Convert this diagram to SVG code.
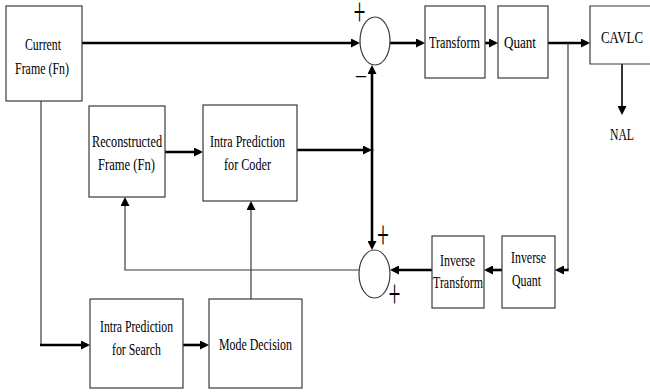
<svg xmlns="http://www.w3.org/2000/svg" width="650" height="392" viewBox="0 0 650 392">
  <style>
    .box { fill: #fff; stroke: #3a3a3a; stroke-width: 1.2; }
    .sum { fill: #fff; stroke: #3a3a3a; stroke-width: 1.2; }
    .lbl { font-family: "Liberation Serif", "Times New Roman", serif; font-size: 17px; fill: #000; }
    .sign { font-family: "Liberation Serif", "Times New Roman", serif; font-size: 40px; fill: #000; }
    .minus { font-family: "Liberation Serif", "Times New Roman", serif; font-size: 22px; fill: #000; text-anchor: middle; }
    .thick { fill: none; stroke: #000; stroke-width: 2.6; }
    .thin { fill: none; stroke: #3a3a3a; stroke-width: 1.2; }
    .arr { marker-end: url(#ah); }
  </style>
  <defs>
    <marker id="ah" viewBox="0 0 10 10" refX="6.7" refY="5" markerWidth="9" markerHeight="9" markerUnits="userSpaceOnUse" orient="auto">
      <path d="M0,0 L10,5 L0,10 z" fill="#000"/>
    </marker>
  </defs>
  <rect width="650" height="392" fill="#fff"/>

  <!-- connectors -->
  <g id="connectors">
    <path class="thick arr" d="M82,43 H357"/>
    <path class="thick arr" d="M390,43 H422"/>
    <path class="thick arr" d="M485,43 H495"/>
    <path class="thick arr" d="M548,43 H587"/>
    <path class="thin" d="M568,43 V270"/>
    <path class="thick arr" d="M568.6,270 H558"/>
    <path class="thin arr" style="stroke:#000;stroke-width:1.6" d="M622,64 V112"/>
    <path class="thick arr" d="M372,151 V68"/>
    <path class="thick arr" d="M372,149 V247"/>
    <path class="thick arr" d="M297,150 H369"/>
    <path class="thick arr" d="M165,152 H200"/>
    <path class="thin arr" d="M359,270 H125 V200"/>
    <path class="thin arr" d="M251,299 V204"/>
    <path class="thin" d="M41,101 V345"/>
    <path class="thick arr" d="M40,345 H87"/>
    <path class="thick arr" d="M183,345 H206"/>
    <path class="thick arr" d="M502,270 H487"/>
    <path class="thick arr" d="M432,270 H393"/>
  </g>

  <!-- summing junctions -->
  <g id="sum-top">
    <ellipse class="sum" cx="375" cy="41" rx="15" ry="24"/>
    <text class="sign" x="353.5" y="25" textLength="12" lengthAdjust="spacingAndGlyphs">+</text>
    <text class="minus" x="361" y="83.5">−</text>
  </g>
  <g id="sum-bottom">
    <ellipse class="sum" cx="374.5" cy="274" rx="15.5" ry="24"/>
    <text class="sign" x="377" y="247.5" textLength="12" lengthAdjust="spacingAndGlyphs">+</text>
    <text class="sign" x="388.5" y="307" textLength="12" lengthAdjust="spacingAndGlyphs">+</text>
  </g>

  <!-- blocks -->
  <g id="current-frame">
    <rect class="box" x="6" y="6" width="76" height="95"/>
    <text class="lbl" x="25" y="50" textLength="36" lengthAdjust="spacingAndGlyphs">Current</text>
    <text class="lbl" x="15" y="74" textLength="54" lengthAdjust="spacingAndGlyphs">Frame (Fn)</text>
  </g>
  <g id="transform">
    <rect class="box" x="425" y="6" width="60" height="72"/>
    <text class="lbl" x="429" y="48" textLength="51" lengthAdjust="spacingAndGlyphs">Transform</text>
  </g>
  <g id="quant">
    <rect class="box" x="498" y="6" width="50" height="72"/>
    <text class="lbl" x="504" y="48" textLength="32" lengthAdjust="spacingAndGlyphs">Quant</text>
  </g>
  <g id="cavlc">
    <path class="box" d="M651,6 H590 V64 H651"/>
    <text class="lbl" x="601" y="43" textLength="42" lengthAdjust="spacingAndGlyphs">CAVLC</text>
  </g>
  <g id="nal">
    <text class="lbl" x="610" y="140" textLength="24" lengthAdjust="spacingAndGlyphs">NAL</text>
  </g>
  <g id="reconstructed-frame">
    <rect class="box" x="89" y="106" width="76" height="91"/>
    <text class="lbl" x="92" y="147" textLength="70" lengthAdjust="spacingAndGlyphs">Reconstructed</text>
    <text class="lbl" x="98" y="170" textLength="57" lengthAdjust="spacingAndGlyphs">Frame (Fn)</text>
  </g>
  <g id="intra-coder">
    <rect class="box" x="203" y="105" width="94" height="96"/>
    <text class="lbl" x="210" y="147" textLength="75" lengthAdjust="spacingAndGlyphs">Intra Prediction</text>
    <text class="lbl" x="224" y="170" textLength="47" lengthAdjust="spacingAndGlyphs">for Coder</text>
  </g>
  <g id="inverse-transform">
    <rect class="box" x="432" y="236" width="52" height="72"/>
    <text class="lbl" x="440" y="266" textLength="35" lengthAdjust="spacingAndGlyphs">Inverse</text>
    <text class="lbl" x="433" y="288" textLength="50" lengthAdjust="spacingAndGlyphs">Transform</text>
  </g>
  <g id="inverse-quant">
    <rect class="box" x="502" y="236" width="53" height="72"/>
    <text class="lbl" x="511" y="263" textLength="35" lengthAdjust="spacingAndGlyphs">Inverse</text>
    <text class="lbl" x="512" y="286" textLength="29" lengthAdjust="spacingAndGlyphs">Quant</text>
  </g>
  <g id="intra-search">
    <rect class="box" x="90" y="299" width="93" height="89"/>
    <text class="lbl" x="100" y="332" textLength="73" lengthAdjust="spacingAndGlyphs">Intra Prediction</text>
    <text class="lbl" x="112" y="355" textLength="49" lengthAdjust="spacingAndGlyphs">for Search</text>
  </g>
  <g id="mode-decision">
    <rect class="box" x="209" y="299" width="93" height="89"/>
    <text class="lbl" x="219" y="350" textLength="73" lengthAdjust="spacingAndGlyphs">Mode Decision</text>
  </g>
</svg>
